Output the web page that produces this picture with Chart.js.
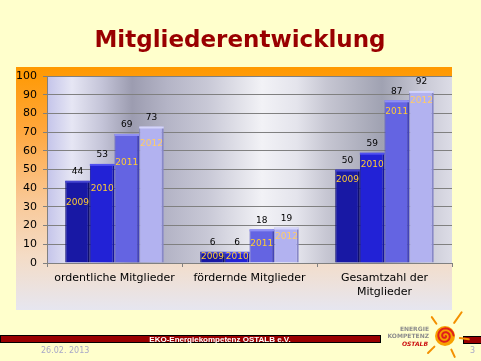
<!DOCTYPE html>
<html><head><meta charset="utf-8">
<script src="https://cdn.jsdelivr.net/npm/chart.js@4"></script>
<style>html,body{margin:0;padding:0;background:#FFFFCC;}canvas{display:block;}</style>
</head><body>
<canvas id="c" width="481" height="361"></canvas>
<script>
const categories = [["ordentliche Mitglieder"], ["fördernde Mitglieder"], ["Gesamtzahl der", "Mitglieder"]];
const years = ["2009", "2010", "2011", "2012"];
const v2009 = [44, 6, 50];
const v2010 = [53, 6, 59];
const v2011 = [69, 18, 87];
const v2012 = [73, 19, 92];
const yTicks = [0, 10, 20, 30, 40, 50, 60, 70, 80, 90, 100];
const title = "Mitgliederentwicklung";
const footerText = "EKO-Energiekompetenz OSTALB e.V.";
const footerDate = "26.02. 2013";
const pageNo = "3";
const logoLines = ["ENERGIE", "KOMPETENZ", "OSTALB"];

const colors = ["#1818A4", "#2222D6", "#6464E2", "#B2B2F0"];
const edge = ["#0E0E70", "#1414A0", "#4444B8", "#8888C8"];
const topHi = ["#4444D0", "#5050F0", "#9090F4", "#D4D4FA"];
// year-label offsets below bar top (layout only)
const yearOff = [[22, 25, 29, 17], [null, null, 14, 9], [10, 12, 11, 10]];

const bgPlugin = {
  id: 'bg',
  beforeDraw(chart) {
    const ctx = chart.ctx;
    const a = chart.chartArea;
    ctx.save();
    ctx.fillStyle = '#FFFFCC';
    ctx.fillRect(0, 0, 481, 361);
    // title
    ctx.fillStyle = '#990000';
    ctx.font = 'bold 23px "DejaVu Sans"';
    ctx.textAlign = 'center';
    ctx.textBaseline = 'alphabetic';
    ctx.fillText(title, 240, 47);
    // panel
    const g = ctx.createLinearGradient(0, 67, 0, 310);
    g.addColorStop(0, '#FF9900');
    g.addColorStop(0.25, '#FFA63A');
    g.addColorStop(0.55, '#F9C896');
    g.addColorStop(0.78, '#F4DCC6');
    g.addColorStop(1, '#E6E6F0');
    ctx.fillStyle = g;
    ctx.fillRect(16, 67, 436, 243);
    // plot background
    const p = ctx.createLinearGradient(a.left, 0, a.right, 0);
    const w = a.right - a.left;
    const st = [[0, '#C4C4EA'], [25, '#E6E6F4'], [55, '#C4C4D8'], [85, '#9C9CB0'], [120, '#B4B4C6'], [160, '#C8C8D6'], [215, '#F2F2F6'], [250, '#E4E4EC'], [280, '#C6C6D2'], [335, '#A0A2B2'], [375, '#C8C8D4'], [405, '#DCDCE6']];
    st.forEach(s => p.addColorStop(Math.min(1, s[0] / w), s[1]));
    ctx.fillStyle = p;
    ctx.fillRect(a.left, a.top, w, a.bottom - a.top);
    ctx.restore();
  },
  afterDraw(chart) {
    const ctx = chart.ctx;
    ctx.save();
    // labels on bars
    ctx.textAlign = 'center';
    ctx.textBaseline = 'middle';
    chart.data.datasets.forEach((ds, di) => {
      const meta = chart.getDatasetMeta(di);
      meta.data.forEach((bar, i) => {
        const x = bar.x, y = bar.y, b = bar.base;
        ctx.font = '9px "DejaVu Sans"';
        ctx.fillStyle = '#000000';
        ctx.fillText(String(ds.data[i]), x, y - 9);
        const off = yearOff[i][di];
        const ly = off == null ? (y + b) / 2 : y + off;
        ctx.fillStyle = di === 3 ? '#FFCC66' : '#FFCC33';
        ctx.fillText(ds.label, x, ly);
      });
    });
    // footer bar
    ctx.fillStyle = '#990000';
    ctx.strokeStyle = '#000000';
    ctx.lineWidth = 1;
    ctx.fillRect(0.5, 335.5, 380, 7);
    ctx.strokeRect(0.5, 335.5, 380, 7);
    ctx.fillRect(463.5, 336.5, 18, 7);
    ctx.strokeRect(463.5, 336.5, 18, 7);
    ctx.fillStyle = '#FFFFFF';
    ctx.font = 'bold 8px "Liberation Sans"';
    ctx.fillText(footerText, 220, 339.5);
    ctx.fillStyle = '#A8A8C8';
    ctx.font = '8px "DejaVu Sans"';
    ctx.textAlign = 'left';
    ctx.fillText(footerDate, 41, 351);
    ctx.fillText(pageNo, 470, 351);
    // logo text
    ctx.textAlign = 'right';
    ctx.font = 'bold 6px "DejaVu Sans"';
    ctx.fillStyle = '#8C8C8C';
    ctx.fillText(logoLines[0], 429, 329);
    ctx.fillText(logoLines[1], 429, 336);
    ctx.fillStyle = '#CC1111';
    ctx.font = 'italic bold 6px "DejaVu Sans"';
    ctx.fillText(logoLines[2], 428, 344);
    // sun
    const cx = 445, cy = 336;
    ctx.strokeStyle = '#F39000';
    ctx.lineCap = 'round';
    ctx.lineWidth = 2;
    const rays = [[-125, 15, 23], [-55, 16, 29], [135, 15, 24], [65, 15, 23], [8, 15, 24]];
    rays.forEach(r => {
      const ang = r[0] * Math.PI / 180;
      ctx.beginPath();
      ctx.moveTo(cx + Math.cos(ang) * r[1], cy + Math.sin(ang) * r[1]);
      ctx.lineTo(cx + Math.cos(ang) * r[2], cy + Math.sin(ang) * r[2]);
      ctx.stroke();
    });
    ctx.fillStyle = '#F7A000';
    ctx.beginPath(); ctx.arc(cx, cy, 10, 0, Math.PI * 2); ctx.fill();
    ctx.strokeStyle = '#E0201A';
    ctx.lineWidth = 2;
    ctx.beginPath();
    for (let t = 0; t < 4 * Math.PI; t += 0.1) {
      const r = 0.8 + t * 0.62;
      const px = cx + Math.cos(t) * r, py = cy + Math.sin(t) * r;
      if (t === 0) ctx.moveTo(px, py); else ctx.lineTo(px, py);
    }
    ctx.stroke();
    ctx.restore();
  }
};

const mk = (i, data) => ({
  label: years[i], data,
  backgroundColor: colors[i],
  borderColor: edge[i],
  borderWidth: {top: 0, left: 1, right: 2, bottom: 0},
  borderSkipped: false
});

const topPlugin = {
  id: 'tops',
  afterDatasetsDraw(chart) {
    const ctx = chart.ctx;
    ctx.save();
    chart.data.datasets.forEach((ds, di) => {
      chart.getDatasetMeta(di).data.forEach(bar => {
        ctx.fillStyle = topHi[di];
        ctx.fillRect(bar.x - bar.width / 2, bar.y, bar.width, 2);
      });
    });
    ctx.restore();
  }
};

new Chart(document.getElementById('c'), {
  type: 'bar',
  data: {
    labels: categories,
    datasets: [mk(0, v2009), mk(1, v2010), mk(2, v2011), mk(3, v2012)]
  },
  options: {
    responsive: false,
    animation: false,
    devicePixelRatio: 1,
    layout: {padding: {left: 0, right: 29, top: 76, bottom: 58}},
    plugins: {legend: {display: false}, tooltip: {enabled: false}, title: {display: false}},
    datasets: {bar: {categoryPercentage: 0.73, barPercentage: 1.0}},
    scales: {
      x: {
        grid: {display: true, drawOnChartArea: false, offset: true, color: '#808080', tickLength: 4},
        border: {color: '#808080', width: 1},
        ticks: {color: '#000000', font: {family: 'DejaVu Sans', size: 11}, padding: 5, maxRotation: 0, autoSkip: false},
        afterFit(s) { s.height = 40; }
      },
      y: {
        min: 0, max: 100,
        afterBuildTicks(s) { s.ticks = yTicks.map(v => ({value: v})); },
        grid: {color: '#808080', tickLength: 4, lineWidth: 1},
        border: {color: '#808080', width: 1},
        ticks: {color: '#000000', font: {family: 'DejaVu Sans', size: 11}, padding: 6},
        afterFit(s) { s.width = 47; }
      }
    }
  },
  plugins: [bgPlugin, topPlugin]
});
</script>
</body></html>
